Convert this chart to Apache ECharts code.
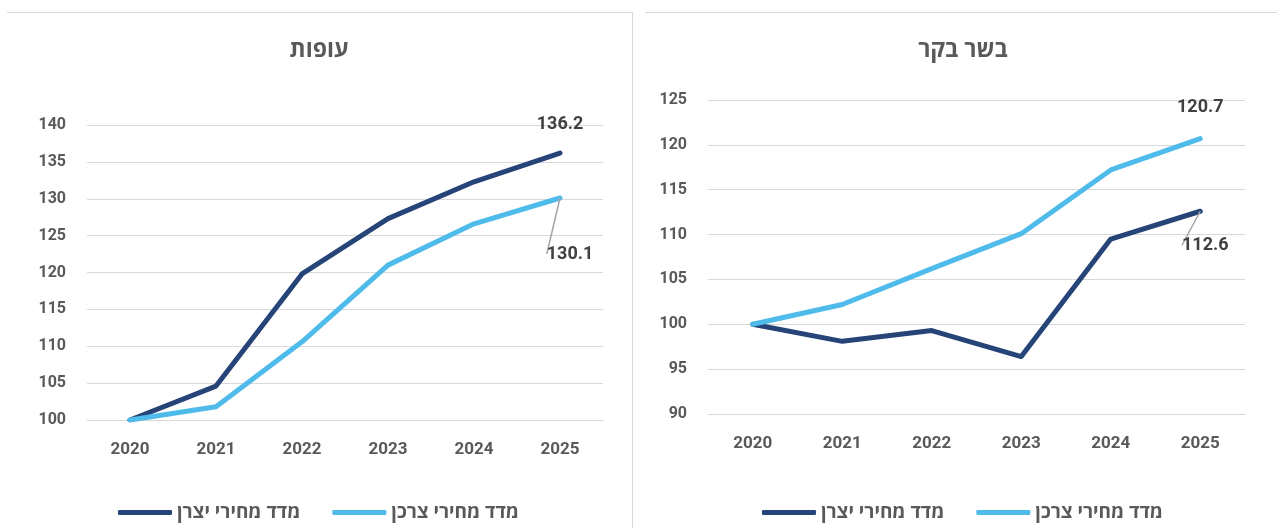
<!DOCTYPE html>
<html><head><meta charset="utf-8">
<script src="https://cdn.jsdelivr.net/npm/echarts@6/dist/echarts.min.js"></script>
<style>html,body{margin:0;padding:0;background:#fff}#c{width:1277px;height:528px}</style>
</head><body><div id="c"></div>
<script>
const years = ['2020','2021','2022','2023','2024','2025'];
const poultryProducer = [100, 104.6, 119.8, 127.3, 132.3, 136.2];
const poultryConsumer = [100, 101.8, 110.6, 121.0, 126.6, 130.1];
const beefProducer = [100, 98.1, 99.3, 96.4, 109.5, 112.6];
const beefConsumer = [100, 102.2, 106.2, 110.1, 117.2, 120.7];
const titles = ['עופות', 'בשר בקר'];
const seriesNames = ['מדד מחירי יצרן', 'מדד מחירי צרכן'];

const DARK = '#264478', LIGHT = '#4ebbeb';
const FONT = '"Open Sans","DejaVu Sans",sans-serif';
const NUMFONT = 'Roboto,"Open Sans",sans-serif';
const chart = echarts.init(document.getElementById('c'));

function withLastLabel(arr, lbl) {
  return arr.map((v, i) => i === arr.length - 1 ? {value: v, label: Object.assign({show: true}, lbl.label)} : v);
}
const lblStyle = {fontFamily: NUMFONT, fontWeight: 'bold', fontSize: 18, color: '#404040'};
function mkSeries(name, color, data, xi, lbl) {
  const s = {
    type: 'line', name: name, xAxisIndex: xi, yAxisIndex: xi,
    data: withLastLabel(data, lbl), symbol: 'circle', symbolSize: 0, showSymbol: true, smooth: false,
    lineStyle: {color: color, width: 5, cap: 'round', join: 'round'},
    itemStyle: {color: color},
    label: Object.assign({show: false, formatter: p => Number(p.value).toFixed(1)}, lblStyle),
    labelLine: {show: false},
    emphasis: {disabled: true}, animation: false
  };
  if (lbl.layout) {
    s.labelLayout = p => (p.dataIndex === data.length - 1 ? lbl.layout : {});
    s.labelLine = {show: true, lineStyle: {color: '#a6a6a6', width: 1.5}};
  }
  return s;
}
const axisLabel = {fontFamily: NUMFONT, fontWeight: 'bold', fontSize: 17, color: '#595959'};
function xAx(gi) {
  return {type: 'category', gridIndex: gi, data: years, boundaryGap: true,
    axisLine: {show: true, lineStyle: {color: '#d9d9d9', width: 1}}, axisTick: {show: false},
    axisLabel: Object.assign({margin: 21}, axisLabel, {fontSize: 17})};
}
function yAx(gi, min, max) {
  return {type: 'value', gridIndex: gi, min: min, max: max, interval: 5,
    axisLine: {show: false}, axisTick: {show: false},
    splitLine: {lineStyle: {color: '#d9d9d9', width: 1}},
    axisLabel: Object.assign({margin: 21}, axisLabel, {fontSize: 16})};
}
const legendText = {fontFamily: FONT, fontWeight: 'bold', fontSize: 19, color: '#595959'};
chart.setOption({
  animation: false,
  title: [
    {text: titles[0], left: 314, top: 34, textAlign: 'center', textStyle: {fontFamily: FONT, fontWeight: 'bold', fontSize: 23, color: '#595959'}},
    {text: titles[1], left: 958, top: 34, textAlign: 'center', textStyle: {fontFamily: FONT, fontWeight: 'bold', fontSize: 23, color: '#595959'}}
  ],
  legend: [
    {data: seriesNames, left: 113, top: 498, itemWidth: 54, itemHeight: 5, itemGap: 32, icon: 'roundRect',
     textStyle: legendText, selectedMode: false},
    {data: seriesNames.map(n => n + ' '), left: 757, top: 498, itemWidth: 54, itemHeight: 5, itemGap: 32, icon: 'roundRect',
     textStyle: legendText, selectedMode: false, formatter: n => n.trim()}
  ],
  grid: [
    {left: 87, right: 674, top: 125, bottom: 108},
    {left: 708, right: 32, top: 100, bottom: 114}
  ],
  xAxis: [xAx(0), xAx(1)],
  yAxis: [yAx(0, 100, 140), yAx(1, 90, 125)],
  series: [
    mkSeries(seriesNames[0], DARK, poultryProducer, 0, {label: {position: 'top', distance: 20}}),
    mkSeries(seriesNames[1], LIGHT, poultryConsumer, 0, {label: {position: 'bottom', distance: 5}, layout: {dx: 10, dy: 42}}),
    mkSeries(seriesNames[0] + ' ', DARK, beefProducer, 1, {label: {position: 'bottom', distance: 5}, layout: {dx: 5, dy: 20}}),
    mkSeries(seriesNames[1] + ' ', LIGHT, beefConsumer, 1, {label: {position: 'top', distance: 22}})
  ],
  graphic: [
    {type: 'line', shape: {x1: 7, y1: 12.5, x2: 632.5, y2: 12.5}, style: {stroke: '#d9d9d9', lineWidth: 1}},
    {type: 'line', shape: {x1: 632.5, y1: 12, x2: 632.5, y2: 528}, style: {stroke: '#d9d9d9', lineWidth: 1}},
    {type: 'line', shape: {x1: 645, y1: 12.5, x2: 1277, y2: 12.5}, style: {stroke: '#d9d9d9', lineWidth: 1}}
  ]
});
</script></body></html>
